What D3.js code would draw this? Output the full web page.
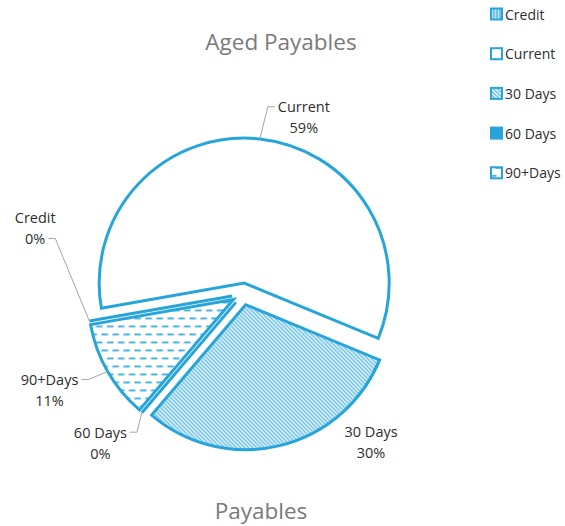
<!DOCTYPE html>
<html>
<head>
<meta charset="utf-8">
<script src="https://cdn.jsdelivr.net/npm/d3@7"></script>
<style>
  html, body { margin: 0; padding: 0; background: #fff; }
  svg { display: block; font-family: "Open Sans", sans-serif; }
</style>
</head>
<body>
<svg id="chart" width="565" height="526"></svg>
<script>
// ---- data ----
const categories = ["Credit", "Current", "30 Days", "60 Days", "90+Days"];
const values = [0, 59, 30, 0, 11];
const percentLabels = ["0%", "59%", "30%", "0%", "11%"];
const chartTitle = "Aged Payables";
const axisTitle = "Payables";

// ---- layout ----
const width = 565, height = 526;
const cx = 243, cy = 294;          // pie centre
const radius = 145;
const explode = 11;                // every slice pulled out from the centre
const firstSliceDeg = 260;         // rotation of the first slice
const blue = "#27a5da";
const hatch = "#4fb3e0";
const textColor = "#2e2e2e";
const leaderColor = "#a6a6a6";

// fill style for each category
const fillKind = {
  "Credit": "vert",
  "Current": "white",
  "30 Days": "diag",
  "60 Days": "solid",
  "90+Days": "dash"
};

// data label placement (polar offset from the pie centre) and leader attachment
const labelPlace = {
  "Credit":  { deg: 287.6, dist: 218, leader: true,  line: 1 },
  "Current": { deg: 19,    dist: 187, leader: true,  line: 0 },
  "30 Days": { deg: 139.2, dist: 196, leader: false, line: 0 },
  "60 Days": { deg: 223.8, dist: 206, leader: true,  line: 0 },
  "90+Days": { deg: 243.6, dist: 216, leader: true,  line: 0 }
};

const svg = d3.select("#chart");
const defs = svg.append("defs");

// hatch patterns
const pDiag = defs.append("pattern").attr("id", "p-diag")
  .attr("patternUnits", "userSpaceOnUse").attr("width", 4).attr("height", 4);
pDiag.append("rect").attr("width", 4).attr("height", 4).attr("fill", "#fff");
pDiag.append("path").attr("d", "M-1,-1 L5,5 M-1,3 L1,5 M3,-1 L5,1")
  .attr("stroke", hatch).attr("stroke-width", 1.3);

const pDash = defs.append("pattern").attr("id", "p-dash")
  .attr("patternUnits", "userSpaceOnUse").attr("width", 11).attr("height", 16);
pDash.append("rect").attr("width", 11).attr("height", 16).attr("fill", "#fff");
pDash.append("path").attr("d", "M0,3 h6.5 M5.5,11 h6.5 M-5.5,11 h6.5")
  .attr("stroke", hatch).attr("stroke-width", 1.8);

const pVert = defs.append("pattern").attr("id", "p-vert")
  .attr("patternUnits", "userSpaceOnUse").attr("width", 3).attr("height", 3);
pVert.append("rect").attr("width", 3).attr("height", 3).attr("fill", "#bfe4f5");
pVert.append("path").attr("d", "M1,0 V3").attr("stroke", blue).attr("stroke-width", 1);

function fillFor(cat) {
  const k = fillKind[cat];
  if (k === "white") return "#fff";
  if (k === "solid") return blue;
  if (k === "diag") return "url(#p-diag)";
  if (k === "dash") return "url(#p-dash)";
  return "url(#p-vert)";
}

const table = categories.map((c, i) => ({ category: c, value: values[i], label: percentLabels[i] }));

const rad = d => d * Math.PI / 180;
const start = rad(firstSliceDeg);
const pie = d3.pie().sort(null).value(d => d.value)
  .startAngle(start).endAngle(start + 2 * Math.PI);
const arcs = pie(table);
const arc = d3.arc().innerRadius(0).outerRadius(radius);

const dir = a => [Math.sin(a), -Math.cos(a)];
const midAngle = d => (d.startAngle + d.endAngle) / 2;

// ---- titles ----
svg.append("text")
  .attr("x", 281).attr("y", 50)
  .attr("text-anchor", "middle")
  .attr("font-size", 22.5)
  .attr("fill", "#7a7a7a")
  .text(chartTitle);

svg.append("text")
  .attr("x", 261).attr("y", 519)
  .attr("text-anchor", "middle")
  .attr("font-size", 22.5)
  .attr("fill", "#7a7a7a")
  .text(axisTitle);

// ---- slices ----
const pieG = svg.append("g").attr("transform", `translate(${cx},${cy})`);

pieG.selectAll("path.slice")
  .data(arcs)
  .join("path")
  .attr("class", "slice")
  .attr("transform", d => {
    const [ux, uy] = dir(midAngle(d));
    return `translate(${ux * explode},${uy * explode})`;
  })
  .attr("d", arc)
  .attr("fill", d => fillFor(d.data.category))
  .attr("stroke", blue)
  .attr("stroke-width", 3)
  .attr("stroke-linejoin", "miter");

// ---- data labels with leader lines ----
const lineGap = 21;
const labelG = svg.append("g")
  .attr("font-size", 14.5)
  .attr("fill", textColor);

arcs.forEach(d => {
  const cat = d.data.category;
  const place = labelPlace[cat];
  const [lx, ly] = dir(rad(place.deg));
  const tx = cx + lx * place.dist;
  const ty = cy + ly * place.dist;

  const g = labelG.append("g");
  const lines = [cat, d.data.label];
  const nodes = lines.map((s, i) =>
    g.append("text")
      .attr("x", tx)
      .attr("y", ty + (i - 0.5) * lineGap)
      .attr("text-anchor", "middle")
      .attr("dominant-baseline", "central")
      .text(s)
  );

  if (place.leader) {
    const m = midAngle(d);
    const [ux, uy] = dir(m);
    const sx = cx + ux * (explode + radius);
    const sy = cy + uy * (explode + radius);
    const node = nodes[place.line].node();
    const w = node.getComputedTextLength();
    const lineY = ty + (place.line - 0.5) * lineGap;
    const onLeft = tx < sx;
    const ax = onLeft ? tx + w / 2 + 3 : tx - w / 2 - 3;
    const ex = onLeft ? ax + 7 : ax - 7;
    labelG.append("path")
      .attr("d", `M${sx},${sy} L${ex},${lineY} L${ax},${lineY}`)
      .attr("fill", "none")
      .attr("stroke", leaderColor)
      .attr("stroke-width", 1);
  }
});

// ---- legend ----
const legend = svg.append("g").attr("transform", "translate(490,14)");
const legendStep = 39.7;
const items = legend.selectAll("g.item")
  .data(categories)
  .join("g")
  .attr("class", "item")
  .attr("transform", (d, i) => `translate(0,${i * legendStep})`);

items.append("rect")
  .attr("x", 1).attr("y", -5.5)
  .attr("width", 11).attr("height", 11)
  .attr("fill", d => fillFor(d))
  .attr("stroke", blue)
  .attr("stroke-width", 2);

items.append("text")
  .attr("x", 15).attr("y", 0)
  .attr("dominant-baseline", "central")
  .attr("font-size", 14)
  .attr("fill", textColor)
  .text(d => d);
</script>
</body>
</html>
